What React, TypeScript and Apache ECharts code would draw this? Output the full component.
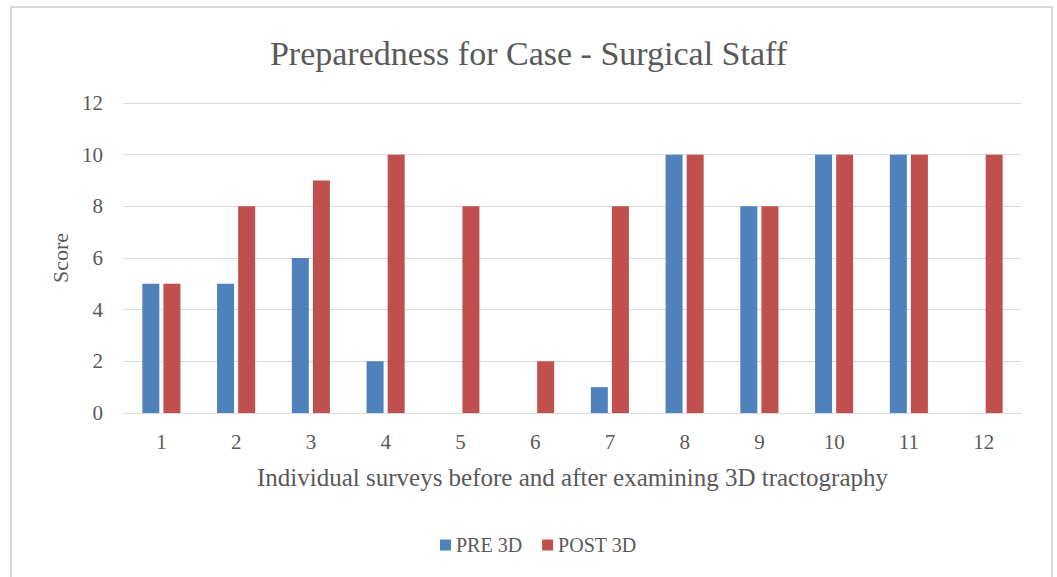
import React, { useEffect, useRef } from "react";
import * as echarts from "echarts";

const categories = ["1", "2", "3", "4", "5", "6", "7", "8", "9", "10", "11", "12"];
const preValues = [5, 5, 6, 2, 0, 0, 1, 10, 8, 10, 10, 0];
const postValues = [5, 8, 9, 10, 8, 2, 8, 10, 8, 10, 10, 10];
const yTicks = { min: 0, max: 12, interval: 2 };

const FONT = "'Liberation Serif', 'DejaVu Serif', serif";
const TEXT = "#595959";

export default function App() {
  const ref = useRef<HTMLDivElement>(null);
  useEffect(() => {
    if (!ref.current) return;
    const chart = echarts.init(ref.current, undefined, { renderer: "svg" });
    chart.setOption({
      animation: false,
      backgroundColor: "#ffffff",
      textStyle: { fontFamily: FONT },
      title: {
        text: "Preparedness for Case - Surgical Staff",
        left: "center",
        top: 31,
        textStyle: { fontFamily: FONT, fontSize: 34, fontWeight: "normal", color: TEXT },
      },
      graphic: [
        {
          type: "rect",
          shape: { x: 11, y: 7, width: 1041, height: 600 },
          style: { fill: "none", stroke: "#d9d9d9", lineWidth: 2 },
          silent: true,
        },
      ],
      legend: {
        bottom: 17,
        left: 435,
        itemWidth: 11,
        itemHeight: 11,
        itemGap: 20,
        icon: "rect",
        textStyle: { fontFamily: FONT, fontSize: 20, color: TEXT },
        data: ["PRE 3D", "POST 3D"],
      },
      grid: { left: 124, right: 36, top: 103, bottom: 164, containLabel: false },
      xAxis: {
        type: "category",
        data: categories,
        name: "Individual surveys before and after examining 3D tractography",
        nameLocation: "middle",
        nameGap: 52,
        nameTextStyle: { fontFamily: FONT, fontSize: 25, color: TEXT },
        axisLine: { lineStyle: { color: "#d9d9d9", width: 1 } },
        axisTick: { show: false },
        axisLabel: { fontFamily: FONT, fontSize: 21, color: TEXT, margin: 18 },
      },
      yAxis: {
        type: "value",
        min: yTicks.min,
        max: yTicks.max,
        interval: yTicks.interval,
        name: "Score",
        nameLocation: "middle",
        nameGap: 52,
        nameRotate: 90,
        nameTextStyle: { fontFamily: FONT, fontSize: 22, color: TEXT },
        axisLine: { show: false },
        axisTick: { show: false },
        splitLine: { lineStyle: { color: "#d9d9d9", width: 1 } },
        axisLabel: { fontFamily: FONT, fontSize: 21, color: TEXT, margin: 21 },
      },
      series: [
        {
          name: "PRE 3D",
          type: "bar",
          data: preValues,
          barWidth: 17,
          barGap: "24%",
          itemStyle: { color: "#4F81BD" },
        },
        {
          name: "POST 3D",
          type: "bar",
          data: postValues,
          barWidth: 17,
          barGap: "24%",
          itemStyle: { color: "#C0504D" },
        },
      ],
    });
    return () => chart.dispose();
  }, []);
  return (
    <div
      ref={ref}
      style={{ position: "fixed", left: 0, top: 0, width: 1057, height: 577 }}
    />
  );
}
